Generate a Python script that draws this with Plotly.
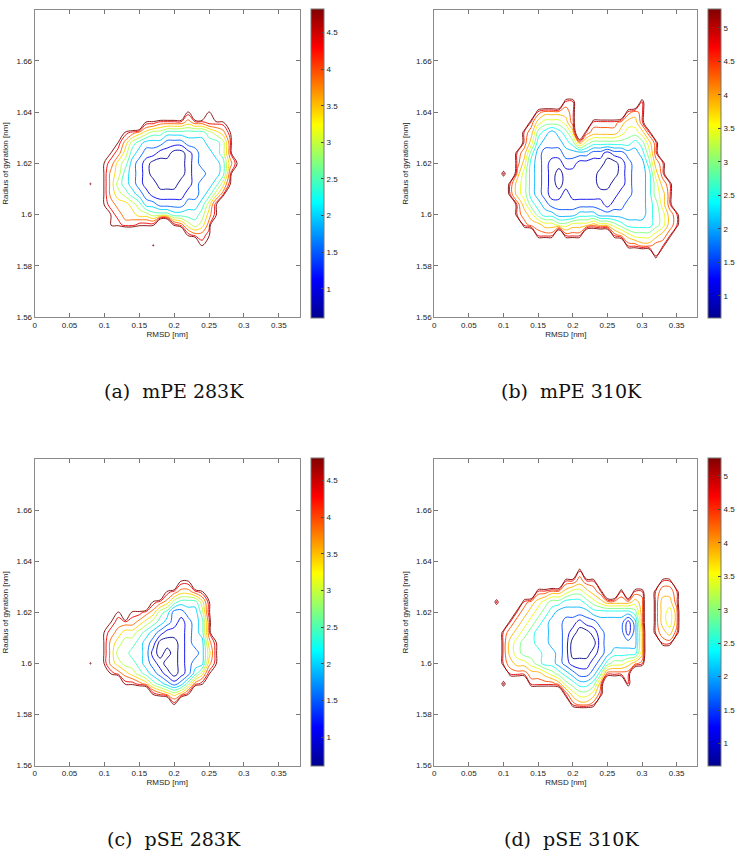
import plotly.graph_objects as go

# ---------------- data ----------------
# grid of RMSD [nm] (columns) and Rg [nm] (rows, top -> bottom)
RMSD_GRID = [0.07, 0.08, 0.09, 0.10, 0.11, 0.12, 0.13, 0.14, 0.15, 0.16,
             0.17, 0.18, 0.19, 0.20, 0.21, 0.22, 0.23, 0.24, 0.25, 0.26,
             0.27, 0.28, 0.29, 0.30, 0.31, 0.32, 0.33, 0.34, 0.35, 0.36, 0.37]
RG_GRID = [1.652, 1.648, 1.644, 1.640, 1.636, 1.632, 1.628, 1.624, 1.620, 1.616,
           1.612, 1.608, 1.604, 1.600, 1.596, 1.592, 1.588, 1.584, 1.580, 1.576]

# free-energy code of each grid cell ('.' = not sampled)
ENERGY_CODE = {'.': 7.0, '0': 0.8, '1': 1.2, '2': 1.6, '3': 2.0, '4': 2.4,
               '5': 2.8, '6': 3.2, '7': 3.6, '8': 4.0, '9': 4.4}

MAP_MPE_283 = [
    "...............................",
    "...............................",
    "...............................",
    "...............9..9............",
    ".........998888788999..........",
    "......9876554444445679.........",
    ".....97543332223334458.........",
    "....986432211001233458.........",
    "...98653210000012333479........",
    "...9764321000001223348.........",
    ".9.9754321100011233469.........",
    "...976543211111223468..........",
    "...98776533222233469...........",
    "....9877665554444579...........",
    "....9988999..986568............",
    "...............9889............",
    "..........9......9.............",
    "...............................",
    "...............................",
    "...............................",
]

MAP_MPE_310 = [
    "...............................",
    "...............................",
    "............99.........9.......",
    "........988889.......989.......",
    ".......9766679..99998779.......",
    "......98543457.9888876679......",
    "......97433345865555554579.....",
    ".....985322233332212233469.....",
    ".....9743211221111001233589....",
    "...9.8643210111110001233479....",
    "....976432101111100112334689...",
    "....976432112111111122334679...",
    ".....97543222222221223334579...",
    ".....987544333444333333345689..",
    "......98877667778776544445689..",
    "........999.999....987666789...",
    ".....................998899....",
    ".........................9.....",
    "...............................",
    "...............................",
]

MAP_PSE_283 = [
    "...............................",
    "...............................",
    "...............................",
    "...............................",
    "...............................",
    "..............99...............",
    "............987789.............",
    "..........987544469............",
    ".....9.998754223359............",
    "....988876543212348............",
    "...9876654321112348............",
    "...97655432000123379...........",
    "...97554431010122369...........",
    ".9.97655432100123379...........",
    "....987654321012469............",
    "......998754323589.............",
    "..........987679...............",
    ".............9.................",
    "...............................",
    "...............................",
]

MAP_PSE_310 = [
    "...............................",
    "...............................",
    "...............................",
    "...............................",
    "..............9................",
    "............99899.........99...",
    "........9988766789..9.99.9889..",
    "..9...987655444567888878.9779..",
    ".....9876543333344444458.9768..",
    "....98765433221223333138.9768..",
    "...987654433210012333137.9879..",
    "...976554433200002333337..99...",
    "...976555443200012344447.......",
    "...987765443211123566789.......",
    "....999887654322359999.........",
    "...9...99998654458...9.........",
    "............976679.............",
    ".............9889..............",
    "...............................",
    "...............................",
]

CAPTIONS = ["(a)\u00a0 mPE 283K", "(b)\u00a0 mPE 310K",
            "(c)\u00a0 pSE 283K", "(d)\u00a0 pSE 310K"]
CBAR_RANGES = [(0.60, 4.82), (0.67, 5.28), (0.60, 4.80), (0.66, 5.26)]
LEVEL_RANGES = [(1.0, 4.6), (1.0, 5.0), (1.0, 4.6), (1.0, 5.0)]
LEVEL_STEP = 0.4
X_TITLE = "RMSD [nm]"
Y_TITLE = "Radius of gyration [nm]"

# ---------------- styling ----------------
JET = [[0.0, "rgb(0,0,143)"], [0.125, "rgb(0,0,255)"], [0.375, "rgb(0,255,255)"],
       [0.625, "rgb(255,255,0)"], [0.875, "rgb(255,0,0)"], [1.0, "rgb(128,0,0)"]]
W, H = 740, 856
TICK_FONT = dict(family="Liberation Sans Narrow, Arial Narrow, Liberation Sans, Arial",
                 size=8, color="#222")
CAP_FONT = dict(family="DejaVu Serif, Liberation Serif, serif", size=19, color="#111")

# pixel boxes of the four panels: (left, right, top, bottom)
BOXES = [(33, 301, 10, 319), (437, 703, 10, 319),
         (33, 301, 462, 770), (437, 703, 462, 770)]
CBAR_LEFT = [312, 714, 312, 714]
CAP_POS = [(174, 393), (576, 393), (174, 844), (576, 844)]

MAPS = [MAP_MPE_283, MAP_MPE_310, MAP_PSE_283, MAP_PSE_310]


def decode(rows):
    z = []
    for r in rows:
        r = r.ljust(len(RMSD_GRID), '.')[:len(RMSD_GRID)]
        z.append([ENERGY_CODE[c] for c in r])
    return z


fig = go.Figure()
layout = dict(width=W, height=H, margin=dict(l=0, r=0, t=0, b=0),
              paper_bgcolor="white", plot_bgcolor="white", showlegend=False)
annotations = []

for i, (rows, (cmin, cmax), (lo, hi)) in enumerate(zip(MAPS, CBAR_RANGES, LEVEL_RANGES)):
    k = "" if i == 0 else str(i + 1)
    xa, ya = "x" + k, "y" + k
    z = decode(rows)
    fig.add_trace(go.Contour(
        x=RMSD_GRID, y=RG_GRID[::-1], z=z[::-1],
        xaxis=xa, yaxis=ya,
        colorscale=JET, zmin=cmin, zmax=cmax, zauto=False,
        autocontour=False,
        contours=dict(start=lo, end=hi + 1e-6, size=LEVEL_STEP, coloring="lines"),
        line=dict(width=0.9, smoothing=1.0),
        showscale=False, hoverinfo="skip"))
    left, right, top, bottom = BOXES[i]
    cb_center = 1 - (top + bottom) / 2 / H
    fig.add_trace(go.Scatter(
        x=[-1], y=[0], mode="markers", xaxis=xa, yaxis=ya, hoverinfo="skip",
        marker=dict(color=[cmin], cmin=cmin, cmax=cmax, colorscale=JET, opacity=0,
                    showscale=True,
                    colorbar=dict(x=CBAR_LEFT[i] / W, xanchor="left", xpad=0, ypad=0,
                                  y=cb_center, yanchor="middle",
                                  len=bottom - top, lenmode="pixels",
                                  thickness=13, thicknessmode="pixels",
                                  outlinewidth=1, outlinecolor="#777",
                                  ticks="inside", ticklen=3, tickcolor="#444",
                                  tick0=0, dtick=0.5,
                                  tickfont=TICK_FONT))))
    layout["xaxis" + k] = dict(
        domain=[left / W, right / W], anchor=ya, range=[0, 0.38],
        tick0=0, dtick=0.05, ticks="inside", ticklen=4, tickcolor="#777",
        showline=True, linecolor="#8a8a8a", linewidth=1, mirror="ticks",
        showgrid=False, zeroline=False, tickfont=TICK_FONT,
        title=dict(text=X_TITLE, font=TICK_FONT, standoff=2))
    layout["yaxis" + k] = dict(
        domain=[1 - bottom / H, 1 - top / H], anchor=xa, range=[1.56, 1.6799],
        tick0=1.56, dtick=0.02, ticks="inside", ticklen=4, tickcolor="#777",
        showline=True, linecolor="#8a8a8a", linewidth=1, mirror="ticks",
        showgrid=False, zeroline=False, tickfont=TICK_FONT,
        title=dict(text=Y_TITLE, font=TICK_FONT, standoff=6))
    cx, cy = CAP_POS[i]
    annotations.append(dict(text=CAPTIONS[i], x=cx / W, y=1 - cy / H,
                            xref="paper", yref="paper", showarrow=False,
                            xanchor="center", yanchor="middle", font=CAP_FONT))

layout["annotations"] = annotations
fig.update_layout(**layout)
fig.write_html("out.html")
